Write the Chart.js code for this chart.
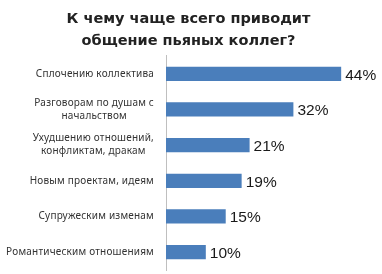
<!DOCTYPE html>
<html>
<head>
<meta charset="utf-8">
<script src="https://cdn.jsdelivr.net/npm/chart.js@4"></script>
<style>
  html, body { margin: 0; padding: 0; background: #fff; }
  #wrap { width: 382px; height: 274px; }
</style>
</head>
<body>
<div id="wrap"><canvas id="c"></canvas></div>
<script>
const titleLines = ['К чему чаще всего приводит', 'общение пьяных коллег?'];
const categories = [
  ['Сплочению коллектива'],
  ['Разговорам по душам с', 'начальством'],
  ['Ухудшению отношений,', 'конфликтам, дракам'],
  ['Новым проектам, идеям'],
  ['Супружеским изменам'],
  ['Романтическим отношениям']
];
const values = [44, 32, 21, 19, 15, 10];

// category labels: lines centred inside a block that is right-aligned to the axis
const labelPlugin = {
  id: 'labelPlugin',
  afterDraw(chart) {
    const ctx = chart.ctx;
    const y = chart.scales.y;
    const right = chart.chartArea.left - 12;
    ctx.save();
    ctx.font = '10px "Noto Sans"';
    ctx.letterSpacing = '0.2px';
    ctx.fillStyle = '#333';
    ctx.textAlign = 'center';
    ctx.textBaseline = 'middle';
    categories.forEach((lines, i) => {
      const cy = y.getPixelForTick(i);
      const w = Math.max(...lines.map(l => ctx.measureText(l).width));
      const cx = right - w / 2;
      const lh = 13;
      const top = cy - (lines.length - 1) * lh / 2;
      lines.forEach((l, j) => ctx.fillText(l, cx, top + j * lh));
    });
    ctx.restore();
  }
};

// percent labels at the end of each bar
const valuePlugin = {
  id: 'valuePlugin',
  afterDatasetsDraw(chart) {
    const ctx = chart.ctx;
    const meta = chart.getDatasetMeta(0);
    ctx.save();
    ctx.font = '15.5px "Liberation Sans"';
    ctx.fillStyle = '#1a1a1a';
    ctx.textAlign = 'left';
    ctx.textBaseline = 'middle';
    meta.data.forEach((bar, i) => {
      ctx.fillText(values[i] + '%', bar.x + 4, bar.y + 1.5);
    });
    ctx.restore();
  }
};

new Chart(document.getElementById('c'), {
  type: 'bar',
  data: {
    labels: categories,
    datasets: [{
      data: values,
      backgroundColor: '#4a7ebb',
      borderWidth: 0,
      barPercentage: 0.4,
      categoryPercentage: 1
    }]
  },
  options: {
    indexAxis: 'y',
    responsive: true,
    maintainAspectRatio: false,
    animation: false,
    layout: { padding: { left: 0, right: 5, top: 0, bottom: 4 } },
    scales: {
      x: { display: false, min: 0, max: 53 },
      y: {
        grid: { display: false },
        border: { display: true, color: '#bfbfbf', width: 1 },
        ticks: { display: false },
        afterFit: (scale) => { scale.width = 166; }
      }
    },
    plugins: {
      legend: { display: false },
      tooltip: { enabled: false },
      title: {
        display: true,
        text: titleLines,
        color: '#222',
        font: { family: '"DejaVu Sans"', size: 14.5, weight: 'bold', lineHeight: 1.55 },
        padding: { top: 7.5, bottom: 3.5 }
      }
    }
  },
  plugins: [labelPlugin, valuePlugin]
});
</script>
</body>
</html>
